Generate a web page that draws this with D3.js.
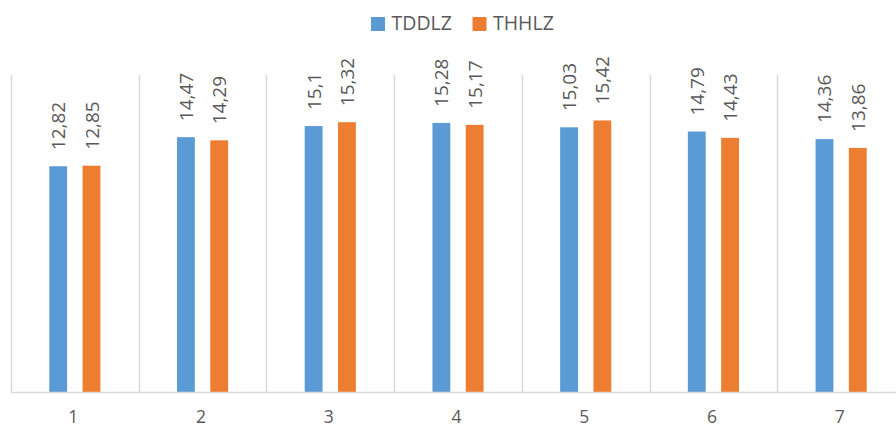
<!DOCTYPE html>
<html><head><meta charset="utf-8">
<script src="https://cdn.jsdelivr.net/npm/d3@7"></script>
<style>body{margin:0;background:#fff}svg{display:block}</style>
</head><body>
<script>
const categories = ["1","2","3","4","5","6","7"];
const seriesNames = ["TDDLZ","THHLZ"];
const tddlz = [12.82,14.47,15.1,15.28,15.03,14.79,14.36];
const thhlz = [12.85,14.29,15.32,15.17,15.42,14.43,13.86];
const labelsTDDLZ = ["12,82","14,47","15,1","15,28","15,03","14,79","14,36"];
const labelsTHHLZ = ["12,85","14,29","15,32","15,17","15,42","14,43","13,86"];
const colors = ["#5B9BD5","#ED7D31"];

(function(){
const W=896,H=428;
const svg=d3.select("body").append("svg").attr("width",W).attr("height",H);
const font="'Open Sans', sans-serif";
const pLeft=11, pRight=905, pTop=75, pBottom=392;
const x0=d3.scaleBand().domain(categories).range([pLeft,pRight]);
const x1=d3.scaleBand().domain(seriesNames).range([0,x0.bandwidth()]).paddingInner(0.464).paddingOuter(1.15);
const y=d3.scaleLinear().domain([0,18]).range([pBottom,pTop]);

const bounds=categories.map(c=>x0(c)).concat([x0(categories[categories.length-1])+x0.bandwidth()]);
svg.append("g").selectAll("line").data(bounds).join("line")
  .attr("x1",d=>Math.round(d)+0.5).attr("x2",d=>Math.round(d)+0.5)
  .attr("y1",pTop).attr("y2",pBottom)
  .attr("stroke","#D9D9D9").attr("stroke-width",1.5);

const data=categories.map((c,i)=>({c,vals:[
  {s:seriesNames[0],v:tddlz[i],l:labelsTDDLZ[i],col:colors[0]},
  {s:seriesNames[1],v:thhlz[i],l:labelsTHHLZ[i],col:colors[1]}]}));

const g=svg.append("g").selectAll("g").data(data).join("g")
  .attr("transform",d=>`translate(${x0(d.c)},0)`);
g.selectAll("rect").data(d=>d.vals).join("rect")
  .attr("x",d=>x1(d.s)).attr("width",x1.bandwidth())
  .attr("y",d=>y(d.v)).attr("height",d=>pBottom-y(d.v))
  .attr("fill",d=>d.col);
g.selectAll("text").data(d=>d.vals).join("text")
  .attr("transform",d=>`translate(${x1(d.s)+x1.bandwidth()/2+7},${y(d.v)-16}) rotate(-90)`)
  .attr("font-family",font).attr("font-size",19).attr("fill","#595959")
  .text(d=>d.l);

svg.append("line").attr("x1",pLeft).attr("x2",W).attr("y1",pBottom+0.5).attr("y2",pBottom+0.5)
  .attr("stroke","#D9D9D9").attr("stroke-width",1.5);

const xAxis=d3.axisBottom(x0).tickSize(0).tickPadding(0);
const ax=svg.append("g").attr("transform",`translate(0,${pBottom})`).call(xAxis);
ax.select(".domain").remove();
ax.selectAll("text").attr("font-family",font).attr("font-size",17.5).attr("fill","#595959")
  .attr("dy",null).attr("y",31).attr("dx",-1.5);

const legX=[371,472.5];
const leg=svg.append("g").selectAll("g").data(seriesNames).join("g")
  .attr("transform",(d,i)=>`translate(${legX[i]},0)`);
leg.append("rect").attr("x",0).attr("y",17).attr("width",14).attr("height",14).attr("fill",(d,i)=>colors[i]);
leg.append("text").attr("x",20.5).attr("y",30).attr("font-family",font).attr("font-size",19.5)
  .attr("fill","#595959").text(d=>d);
})();
</script>
</body></html>
